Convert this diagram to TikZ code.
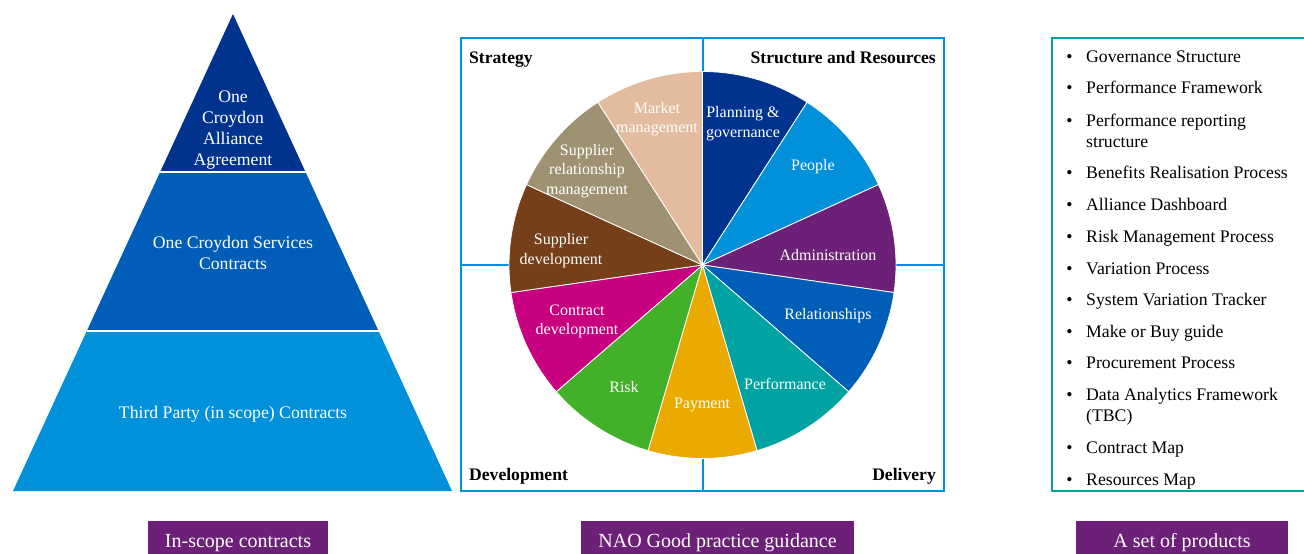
\documentclass[tikz,border=0pt]{standalone}
\usepackage{fontspec}
\setmainfont{Liberation Serif}
\usepackage{tikz}
\usetikzlibrary{calc}

\definecolor{kNavy}{HTML}{00338D}
\definecolor{kBlue}{HTML}{005EB8}
\definecolor{kLightBlue}{HTML}{0091DA}
\definecolor{kPurple}{HTML}{6D2077}
\definecolor{kTeal}{HTML}{00A3A1}
\definecolor{kGold}{HTML}{EAAA00}
\definecolor{kGreen}{HTML}{43B02A}
\definecolor{kMagenta}{HTML}{C6007E}
\definecolor{kBrown}{HTML}{753F19}
\definecolor{kKhaki}{HTML}{9E9273}
\definecolor{kPeach}{HTML}{E3BC9F}

\begin{document}
\begin{tikzpicture}[x=1pt, y=-1pt,
    slicetext/.style={text=white, align=center, inner sep=0pt, font=\fontsize{16}{19.5}\selectfont},
    tiertext/.style={text=white, align=center, inner sep=0pt, font=\fontsize{17.7}{21.3}\selectfont},
    quadtext/.style={inner sep=0pt, font=\fontsize{17.6}{21}\selectfont\bfseries},
    itemtext/.style={inner sep=0pt, align=left, anchor=base west, font=\fontsize{17.7}{21.3}\selectfont},
    tagbox/.style={fill=kPurple, text=white, inner sep=0pt, text height=26pt, text depth=7pt, anchor=north, font=\fontsize{20}{24}\selectfont},
    frameline/.style={kLightBlue, line width=1.6pt}]
    \useasboundingbox (0,0) rectangle (1304,554);

    \coordinate (apex) at (233,14);
    \coordinate (baseL) at (13,491);
    \coordinate (baseR) at (452,491);
    \coordinate (upL) at ($(apex)!0.3312!(baseL)$);
    \coordinate (upR) at ($(apex)!0.3312!(baseR)$);
    \coordinate (loL) at ($(apex)!0.6646!(baseL)$);
    \coordinate (loR) at ($(apex)!0.6646!(baseR)$);
    \fill[kNavy] (apex) -- (upR) -- (upL) -- cycle;
    \fill[kBlue] (upL) -- (upR) -- (loR) -- (loL) -- cycle;
    \fill[kLightBlue] (loL) -- (loR) -- (baseR) -- (baseL) -- cycle;
    \draw[white, line width=2pt] (upL) -- (upR) (loL) -- (loR);
    \node[tiertext] (tierAlliance) at (233,130) {One\\Croydon\\Alliance\\Agreement};
    \node[tiertext] (tierServices) at (233,253) {One Croydon Services\\Contracts};
    \node[tiertext] (tierThird) at (233,414) {Third Party (in scope) Contracts};

    \coordinate (hub) at (702.5,265);
    \draw[frameline] (461,38) rectangle (944,491);
    \draw[frameline] (703,38) -- (703,491) (461,265) -- (944,265);
    \foreach \c [count=\i from 0] in {kNavy,kLightBlue,kPurple,kBlue,kTeal,kGold,kGreen,kMagenta,kBrown,kKhaki,kPeach}
      \filldraw[fill=\c, draw=white, line width=0.8pt] (hub) -- ++(-90+\i*360/11:193.5) arc[start angle=-90+\i*360/11, delta angle=360/11, radius=193.5] -- cycle;
    \node[slicetext] (sPlanning) at (743,123.5) {Planning \&\\governance};
    \node[slicetext] (sPeople) at (813,167) {People};
    \node[slicetext] (sAdmin) at (828,255) {Administration};
    \node[slicetext] (sRelations) at (828,316) {Relationships};
    \node[slicetext] (sPerformance) at (785,384) {Performance};
    \node[slicetext] (sPayment) at (702,405) {Payment};
    \node[slicetext] (sRisk) at (624,387) {Risk};
    \node[slicetext] (sContract) at (577,321.5) {Contract\\development};
    \node[slicetext] (sSupplierDev) at (561,250.7) {Supplier\\development};
    \node[slicetext] (sSupplierRel) at (587,171) {Supplier\\relationship\\management};
    \node[slicetext] (sMarket) at (657,119) {Market\\management};
    \node[quadtext, anchor=west] (qStrategy) at (469,60) {Strategy};
    \node[quadtext, anchor=east] (qStructure) at (936,58) {Structure and Resources};
    \node[quadtext, anchor=west] (qDevelopment) at (469,476) {Development};
    \node[quadtext, anchor=east] (qDelivery) at (936,476) {Delivery};

    \draw[kTeal, line width=1.5pt] (1306,38) -| (1052,491) -- (1306,491);
    \foreach \b/\l/\t [count=\i] in {62.3/62.3/Governance Structure, 93.5/93.5/Performance Framework,
        126/147.3/{Performance reporting\\structure}, 178.6/178.6/Benefits Realisation Process,
        210.3/210.3/Alliance Dashboard, 242.3/242.3/Risk Management Process, 274.3/274.3/Variation Process,
        305.5/305.5/System Variation Tracker, 337.3/337.3/Make or Buy guide, 368.3/368.3/Procurement Process,
        400/421.7/{Data Analytics Framework\\(TBC)}, 453.6/453.6/Contract Map, 485.3/485.3/Resources Map} {
      \node[inner sep=0pt, anchor=base, font=\fontsize{17.7}{21}\selectfont] (dot\i) at (1069.5,\b) {\textbullet};
      \node[itemtext] (item\i) at (1086,\l) {\t};
    }

    \node[tagbox, minimum width=180pt] (tagContracts) at (238,521) {In-scope contracts};
    \node[tagbox, minimum width=273pt] (tagGuidance) at (717.5,521) {NAO Good practice guidance};
    \node[tagbox, minimum width=212pt] (tagProducts) at (1182,521) {A set of products};
\end{tikzpicture}
\end{document}
